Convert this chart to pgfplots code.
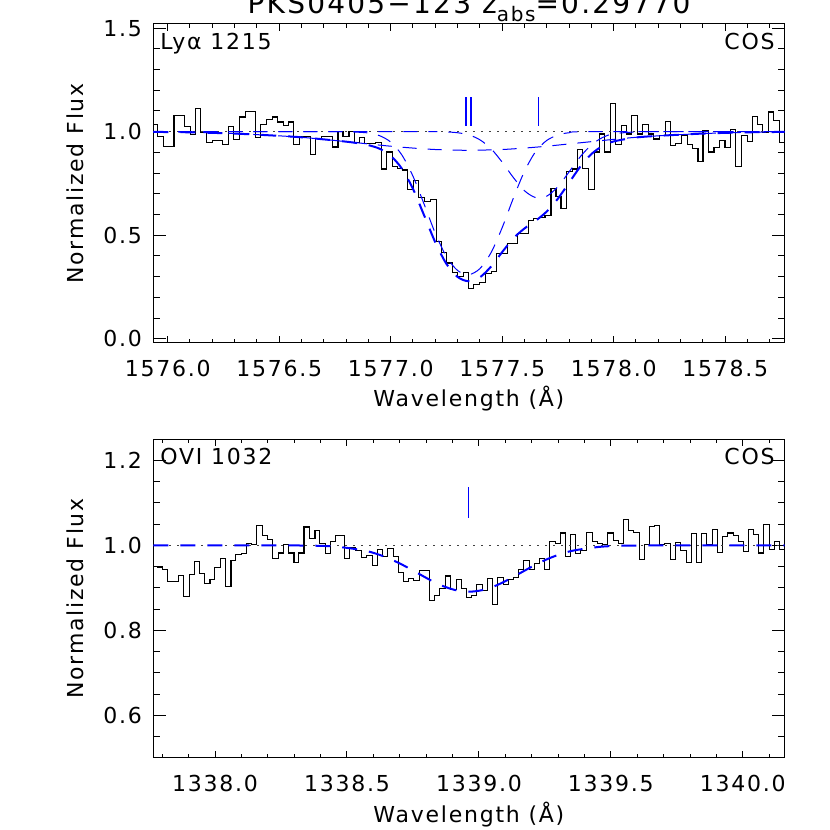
\documentclass[border=0pt]{standalone}
\usepackage{fontspec}
\setmainfont[LetterSpace=8]{DejaVu Sans}
\usepackage{pgfplots}
\pgfplotsset{compat=1.18}
\definecolor{idlblue}{RGB}{0,0,255}
\pgfplotsset{
  spec/.style={
    scale only axis, width=315.6pt, height=159.5pt, anchor=south west,
    axis line style={line width=0.5pt, black},
    every tick/.style={black, line width=0.5pt},
    xtick style={/pgfplots/major tick length=3.4pt,/pgfplots/minor tick length=1.8pt},
    ytick style={/pgfplots/major tick length=6.3pt,/pgfplots/minor tick length=3.2pt},
    tick label style={font=\fontsize{11}{13}\selectfont},
    label style={font=\fontsize{11}{13}\selectfont},
    /pgf/number format/assume math mode=true,
    /pgf/number format/fixed, /pgf/number format/fixed zerofill,
    /pgf/number format/precision=1, /pgf/number format/1000 sep={},
    scaled ticks=false,
    xticklabel style={anchor=north, inner sep=0pt, yshift=-8.5pt},
    yticklabel style={anchor=east, inner sep=0pt, xshift=-5.5pt},
    xlabel={Wavelength (Å)},
    ylabel={Normalized Flux},
    xlabel style={at={(axis description cs:0.5,0)}, anchor=base, inner sep=0pt, yshift=-32pt},
    ylabel style={at={(axis description cs:-0.124,0.5)}, anchor=center, inner sep=0pt},
    clip=true,
  },
  hist/.style={black, line width=0.55pt, const plot, no marks},
  cont/.style={black!75, line width=0.6pt, dash pattern=on 0.7pt off 3.3pt, no marks},
  comp/.style={idlblue, line width=0.5pt, dash pattern=on 7pt off 5.5pt, no marks, smooth},
  tot/.style={idlblue, line width=1.0pt, dash pattern=on 7.5pt off 6pt, no marks, smooth},
  tickm/.style={draw=idlblue, color=idlblue, line width=0.75pt, no marks},
}
\begin{document}
\begin{tikzpicture}
\useasboundingbox (0,0) rectangle (415pt,415pt);
\node[anchor=base, inner sep=0pt, font=\fontsize{14}{16}\selectfont] at (234.5pt,408pt) {PKS0405−123 z\raisebox{-4pt}{\fontsize{10}{12}\selectfont abs}=0.29770};

% ---------------- top panel: Ly alpha
\begin{axis}[spec, at={(76.65pt,243.5pt)},
  xmin=1575.9355, xmax=1578.766, ymin=-0.02, ymax=1.52,
  xtick={1576.0,1576.5,1577.0,1577.5,1578.0,1578.5},
  minor xtick={1576.1,1576.2,1576.3,1576.4,1576.6,1576.7,1576.8,1576.9,1577.1,1577.2,1577.3,1577.4,1577.6,1577.7,1577.8,1577.9,1578.1,1578.2,1578.3,1578.4,1578.6,1578.7},
  ytick={0,0.5,1.0,1.5},
  minor ytick={0.1,0.2,0.3,0.4,0.6,0.7,0.8,0.9,1.1,1.2,1.3,1.4},
]
\addplot[hist] coordinates {
(1575.9355,1.036) (1575.9536,0.976) (1575.9804,0.930) (1576.0282,1.080) (1576.0774,1.025)
(1576.1028,0.986) (1576.1252,1.114) (1576.1491,0.997) (1576.1744,0.949) (1576.1998,0.957)
(1576.2461,0.937) (1576.2714,1.024) (1576.2968,0.962) (1576.3206,1.071) (1576.3505,1.099)
(1576.3953,0.973) (1576.4176,1.036) (1576.4430,1.057) (1576.4699,1.071) (1576.4923,1.047)
(1576.5176,1.030) (1576.5430,1.047) (1576.5653,0.937) (1576.5922,0.978) (1576.6400,0.889)
(1576.6638,0.968) (1576.6892,0.978) (1576.7384,0.926) (1576.7638,1.001) (1576.7862,0.978)
(1576.8130,1.000) (1576.8384,0.950) (1576.8608,0.973) (1576.8832,0.941) (1576.9324,0.949)
(1576.9578,0.820) (1576.9802,0.902) (1577.0070,0.831) (1577.0324,0.823) (1577.0547,0.815)
(1577.0771,0.721) (1577.1025,0.765) (1577.1264,0.681) (1577.1518,0.662) (1577.1771,0.674)
(1577.2040,0.472) (1577.2264,0.416) (1577.2517,0.366) (1577.2756,0.322) (1577.3010,0.303)
(1577.3263,0.319) (1577.3502,0.243) (1577.3726,0.263) (1577.3980,0.271) (1577.4233,0.314)
(1577.4502,0.327) (1577.4726,0.410) (1577.4994,0.413) (1577.5248,0.460) (1577.5695,0.508)
(1577.6173,0.571) (1577.6411,0.579) (1577.6665,0.587) (1577.6919,0.595) (1577.7188,0.726)
(1577.7411,0.689) (1577.7635,0.631) (1577.7904,0.807) (1577.8157,0.820) (1577.8396,0.915)
(1577.8605,0.823) (1577.8873,0.720) (1577.9127,0.902) (1577.9351,0.989) (1577.9605,0.902)
(1577.9843,1.135) (1578.0097,0.937) (1578.0350,1.028) (1578.0589,0.989) (1578.0813,1.080)
(1578.1067,0.989) (1578.1290,1.036) (1578.1544,0.989) (1578.1783,0.965) (1578.2037,0.981)
(1578.2305,1.050) (1578.2529,0.934) (1578.2783,0.941) (1578.3051,0.981) (1578.3305,0.937)
(1578.3528,0.921) (1578.3782,0.855) (1578.4006,1.008) (1578.4245,0.902) (1578.4499,0.924)
(1578.4752,0.956) (1578.4991,0.924) (1578.5245,1.012) (1578.5469,0.831) (1578.5737,0.981)
(1578.5991,0.954) (1578.6214,1.074) (1578.6468,1.033) (1578.6692,0.997) (1578.6931,1.095)
(1578.7184,1.052) (1578.7438,0.949) (1578.766,0.949)
};
\addplot[cont] coordinates {(1575.9355,1) (1578.766,1)};
% broad component
\addplot[comp] coordinates {
(1575.9355,0.999) (1576.1,0.997) (1576.3,0.991) (1576.5,0.980) (1576.6,0.973) (1576.7,0.963)
(1576.8,0.952) (1576.9,0.941) (1577.0,0.930) (1577.1,0.921) (1577.2,0.914) (1577.3,0.911)
(1577.35,0.910) (1577.4,0.911) (1577.5,0.914) (1577.6,0.921) (1577.7,0.930) (1577.8,0.941)
(1577.9,0.952) (1578.0,0.963) (1578.1,0.973) (1578.2,0.980) (1578.4,0.991) (1578.6,0.997) (1578.766,0.999)
};
% narrow component
\addplot[comp] coordinates {
(1575.9355,1.0) (1576.7,1.0) (1576.8,1.0) (1576.9,0.994) (1576.95,0.981) (1577.0,0.950)
(1577.05,0.888) (1577.1,0.785) (1577.15,0.650) (1577.2,0.510) (1577.25,0.397) (1577.3,0.330)
(1577.35,0.310) (1577.4,0.339) (1577.45,0.416) (1577.5,0.537) (1577.55,0.679) (1577.6,0.809)
(1577.65,0.904) (1577.7,0.958) (1577.75,0.984) (1577.8,0.995) (1577.9,1.0) (1578.766,1.0)
};
% red component
\addplot[comp] coordinates {
(1575.9355,1.0) (1577.1,1.0) (1577.2,1.0) (1577.25,0.999) (1577.3,0.995) (1577.35,0.985)
(1577.4,0.961) (1577.45,0.918) (1577.5,0.853) (1577.55,0.779) (1577.6,0.715) (1577.65,0.682)
(1577.7,0.689) (1577.75,0.735) (1577.8,0.806) (1577.85,0.879) (1577.9,0.936) (1577.95,0.972)
(1578.0,0.990) (1578.1,0.999) (1578.2,1.0) (1578.766,1.0)
};
% total model
\addplot[tot] coordinates {
(1575.9355,0.999) (1576.1,0.997) (1576.3,0.991) (1576.5,0.980) (1576.6,0.973) (1576.7,0.963)
(1576.8,0.952) (1576.85,0.945) (1576.9,0.935) (1576.95,0.918) (1577.0,0.884) (1577.05,0.822)
(1577.1,0.724) (1577.15,0.596) (1577.2,0.466) (1577.25,0.362) (1577.3,0.299) (1577.35,0.278)
(1577.4,0.297) (1577.45,0.349) (1577.5,0.419) (1577.55,0.485) (1577.6,0.533) (1577.65,0.570)
(1577.7,0.615) (1577.75,0.677) (1577.8,0.754) (1577.85,0.831) (1577.9,0.892) (1577.95,0.931)
(1578.0,0.953) (1578.1,0.972) (1578.2,0.980) (1578.4,0.991) (1578.6,0.997) (1578.766,0.999)
};
\addplot[tickm] coordinates {(1577.3384,1.029) (1577.3384,1.169)};
\addplot[tickm] coordinates {(1577.3608,1.029) (1577.3608,1.169)};
\addplot[tickm] coordinates {(1577.6620,1.029) (1577.6620,1.169)};
\node[anchor=base west, inner sep=0pt, font=\fontsize{11}{13}\selectfont] at (axis description cs:0.0106,0.9216) {Lyα 1215};
\node[anchor=base east, inner sep=0pt, font=\fontsize{11}{13}\selectfont] at (axis description cs:0.985,0.9216) {COS};
\end{axis}

% ---------------- bottom panel: O VI
\begin{axis}[spec, at={(76.65pt,36pt)},
  xmin=1337.766, xmax=1340.158, ymin=0.5, ymax=1.25,
  xtick={1338.0,1338.5,1339.0,1339.5,1340.0},
  minor xtick={1337.8,1337.9,1338.1,1338.2,1338.3,1338.4,1338.6,1338.7,1338.8,1338.9,1339.1,1339.2,1339.3,1339.4,1339.6,1339.7,1339.8,1339.9,1340.1},
  ytick={0.6,0.8,1.0,1.2},
  minor ytick={0.55,0.65,0.7,0.75,0.85,0.9,0.95,1.05,1.1,1.15},
]
\addplot[hist] coordinates {
(1337.766,0.951) (1337.7811,0.949) (1337.8000,0.943) (1337.8190,0.916) (1337.8417,0.914)
(1337.8607,0.929) (1337.8796,0.880) (1337.9024,0.932) (1337.9213,0.962) (1337.9403,0.933)
(1337.9617,0.910) (1337.9807,0.919) (1337.9996,0.947) (1338.0211,0.968) (1338.0413,0.904)
(1338.0603,0.965) (1338.0792,0.978) (1338.1007,0.980) (1338.1196,1.005) (1338.1386,1.002)
(1338.1575,1.046) (1338.1790,1.023) (1338.1979,1.013) (1338.2182,0.969) (1338.2396,0.982)
(1338.2586,1.001) (1338.2800,0.982) (1338.2990,0.959) (1338.3179,0.982) (1338.3369,1.043)
(1338.3571,1.016) (1338.3786,1.035) (1338.3975,1.004) (1338.4190,0.980) (1338.4379,1.009)
(1338.4569,1.023) (1338.4922,0.969) (1338.5112,0.995) (1338.5327,0.988) (1338.5554,0.971)
(1338.5743,0.976) (1338.5958,0.953) (1338.6147,0.991) (1338.6350,0.974) (1338.6526,0.992)
(1338.6754,0.973) (1338.6943,0.937) (1338.7133,0.915) (1338.7322,0.923) (1338.7537,0.918)
(1338.7739,0.941) (1338.8118,0.871) (1338.8333,0.881) (1338.8522,0.898) (1338.8737,0.928)
(1338.8926,0.896) (1338.9154,0.919) (1338.9343,0.898) (1338.9533,0.878) (1338.9722,0.882)
(1338.9912,0.908) (1339.0126,0.894) (1339.0316,0.923) (1339.0518,0.861) (1339.0707,0.925)
(1339.0922,0.908) (1339.1111,0.919) (1339.1301,0.925) (1339.1516,0.943) (1339.1705,0.965)
(1339.1907,0.943) (1339.2097,0.957) (1339.2311,0.970) (1339.2501,0.943) (1339.2690,1.008)
(1339.2905,1.004) (1339.3107,1.029) (1339.3297,0.973) (1339.3486,1.026) (1339.3676,0.980)
(1339.3865,0.988) (1339.4080,1.031) (1339.4294,1.008) (1339.4484,1.004) (1339.4686,1.002)
(1339.4876,1.029) (1339.5090,1.012) (1339.5280,1.004) (1339.5469,1.061) (1339.5659,1.034)
(1339.5848,1.030) (1339.6075,0.966) (1339.6265,1.002) (1339.6454,1.045) (1339.6644,1.047)
(1339.6859,1.002) (1339.7048,1.004) (1339.7263,0.966) (1339.7465,1.006) (1339.7654,0.988)
(1339.7869,0.959) (1339.8059,1.027) (1339.8248,0.959) (1339.8438,1.027) (1339.8627,1.002)
(1339.8842,1.037) (1339.9031,0.983) (1339.9220,1.021) (1339.9423,1.029) (1339.9637,1.024)
(1339.9827,1.008) (1340.0016,0.986) (1340.0206,1.037) (1340.0421,1.025) (1340.0610,0.982)
(1340.0800,1.049) (1340.1002,0.990) (1340.1216,1.010) (1340.1406,0.990) (1340.158,0.990)
};
\addplot[cont] coordinates {(1337.766,1) (1340.158,1)};
\addplot[tot] coordinates {
(1337.766,1.0) (1338.162,1.0) (1338.362,0.9993) (1338.462,0.9967) (1338.562,0.9882)
(1338.612,0.9800) (1338.662,0.9684) (1338.712,0.9536) (1338.762,0.9367) (1338.812,0.9196)
(1338.862,0.9047) (1338.912,0.8946) (1338.962,0.891) (1339.012,0.8946) (1339.062,0.9047)
(1339.112,0.9196) (1339.162,0.9367) (1339.212,0.9536) (1339.262,0.9684) (1339.312,0.9800)
(1339.362,0.9882) (1339.462,0.9967) (1339.562,0.9993) (1339.762,1.0) (1340.158,1.0)
};
\addplot[tickm] coordinates {(1338.961,1.065) (1338.961,1.137)};
\node[anchor=base west, inner sep=0pt, font=\fontsize{11}{13}\selectfont] at (axis description cs:0.0106,0.919) {OVI 1032};
\node[anchor=base east, inner sep=0pt, font=\fontsize{11}{13}\selectfont] at (axis description cs:0.985,0.919) {COS};
\end{axis}
\end{tikzpicture}
\end{document}
